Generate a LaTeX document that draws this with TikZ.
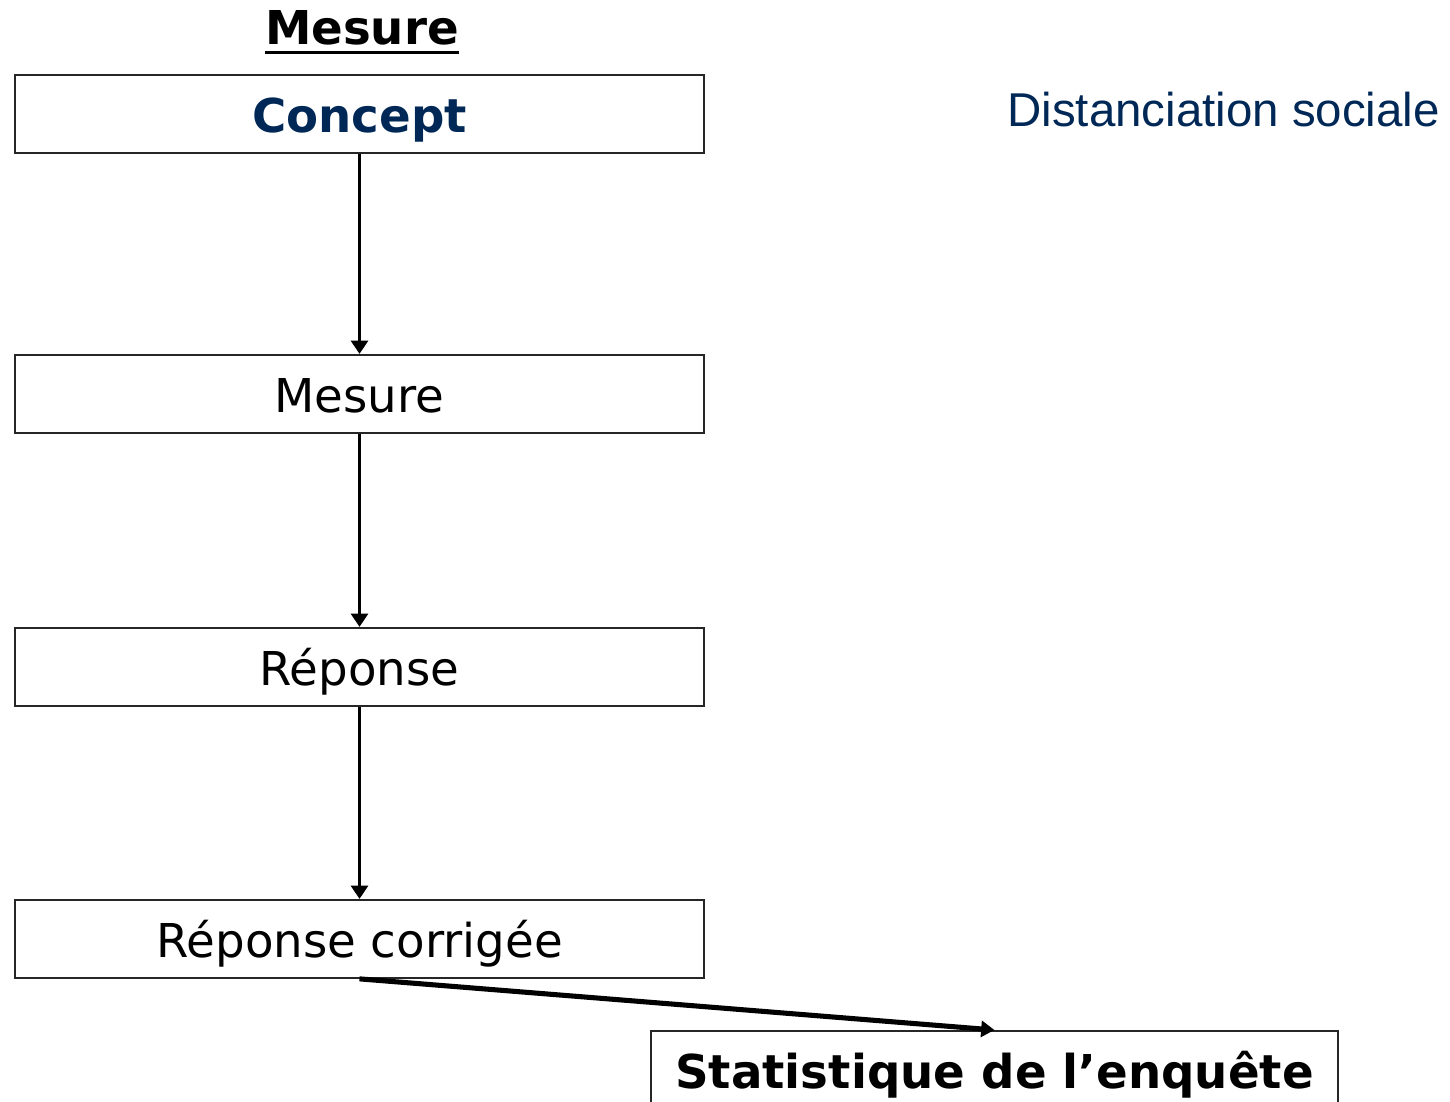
\documentclass[tikz,border=0pt]{standalone}
\usepackage{fontspec}
\setmainfont{DejaVu Sans}
\newfontfamily\arialfont{Liberation Sans}
\usetikzlibrary{arrows.meta}
\definecolor{navy}{RGB}{0,40,86}
\begin{document}
\begin{tikzpicture}[x=0.75pt,y=-0.75pt,
  stepbox/.style={draw=black!85,line width=1.4pt,inner sep=0pt,
    minimum width=516.75pt,text height=43.5pt,text depth=15pt,
    font=\fontsize{35}{42}\selectfont},
  flow/.style={line width=2.6pt,-{Triangle[length=10pt,width=12.5pt]}},
  bigflow/.style={line width=3.8pt,-{Triangle[length=10pt,width=12pt]}}]
\clip (0,0) rectangle (1450,1102);
\fill[white] (0,0) rectangle (1450,1102);
\node[inner sep=0pt,anchor=base,font=\fontsize{35}{42}\selectfont\bfseries] (title) at (362,45) {Mesure};
\draw[line width=2.4pt] ([yshift=-5.5pt]title.base west) -- ([yshift=-5.5pt]title.base east);
\node[stepbox,anchor=north,text=navy,font=\fontsize{35}{42}\selectfont\bfseries] (concept) at (359.5,74) {Concept};
\node[stepbox,anchor=north] (mesure) at (359.5,354) {Mesure};
\node[stepbox,anchor=north] (reponse) at (359.5,627) {Réponse};
\node[stepbox,anchor=north] (corr) at (359.5,899) {Réponse corrigée};
\node[stepbox,anchor=north,minimum width=515.25pt,font=\fontsize{35}{42}\selectfont\bfseries] (stat) at (994.5,1030) {Statistique de l’enquête};
\node[inner sep=0pt,anchor=base west,text=navy,font=\arialfont\fontsize{35.6}{42}\selectfont] (dist) at (1007,127) {Distanciation sociale};
\draw[flow] (concept.south) -- (mesure.north);
\draw[flow] (mesure.south) -- (reponse.north);
\draw[flow] (reponse.south) -- (corr.north);
\draw[bigflow] (corr.south) -- (stat.north);
\end{tikzpicture}
\end{document}
